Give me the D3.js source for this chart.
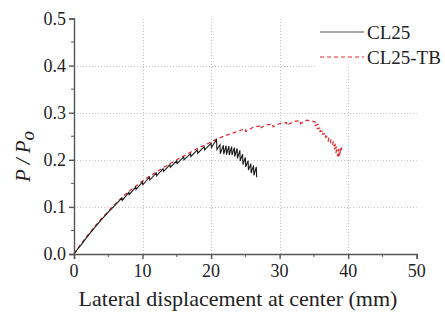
<!DOCTYPE html>
<html>
<head>
<meta charset="utf-8">
<script src="https://cdn.jsdelivr.net/npm/d3@7"></script>
</head>
<body style="margin:0;background:#fff">
<script>
// CL25 (solid black)
const cl25X = [0, 0.5, 1, 2, 3, 4, 5, 6, 7, 7.05, 8, 8.05, 9, 9.05, 10, 10.05, 11, 11.05, 12, 12.05,
  13, 13.05, 14, 14.05, 15, 15.05, 16, 16.05, 17, 17.05, 18, 18.05, 19, 19.05, 20, 20.05, 20.8, 20.85,
  21.3, 21.35, 21.8, 21.85, 22.2, 22.25, 22.6, 22.65, 23.0, 23.05, 23.4, 23.45, 23.8, 23.85, 24.2, 24.25,
  24.6, 24.65, 25.0, 25.05, 25.4, 25.45, 25.8, 25.85, 26.2, 26.25, 26.6, 26.65];
const cl25Y = [0, 0.01, 0.019, 0.038, 0.056, 0.073, 0.089, 0.104, 0.119, 0.114, 0.131, 0.126, 0.142, 0.137, 0.153, 0.147, 0.163, 0.157, 0.172, 0.166,
  0.181, 0.175, 0.19, 0.184, 0.198, 0.192, 0.206, 0.2, 0.213, 0.207, 0.221, 0.214, 0.228, 0.221, 0.235, 0.226, 0.243, 0.222,
  0.232, 0.213, 0.231, 0.212, 0.23, 0.211, 0.229, 0.21, 0.228, 0.21, 0.226, 0.207, 0.224, 0.203, 0.22, 0.198,
  0.212, 0.19, 0.205, 0.185, 0.198, 0.178, 0.192, 0.172, 0.188, 0.167, 0.185, 0.163];

// CL25-TB (dashed red)
const tbX = [0, 1, 2, 3, 4, 5, 6, 7, 8, 9, 10, 11, 12, 13, 14, 15, 16, 17, 18, 19, 20, 21, 22, 23, 24,
  25, 25.05, 26, 27, 27.05, 28, 29, 29.05, 30, 31, 31.05, 32, 33, 33.05, 34, 34.8, 35.2, 35.1, 35.6, 35.5,
  36.0, 35.9, 36.4, 36.3, 36.8, 36.7, 37.2, 37.1, 37.5, 37.4, 37.8, 37.7, 38.1, 37.9, 38.4, 38.2, 38.6,
  38.4, 38.9, 38.5, 39.1, 38.7, 38.9];
const tbY = [0, 0.021, 0.04, 0.058, 0.075, 0.091, 0.106, 0.12, 0.133, 0.144, 0.155, 0.165, 0.174, 0.183, 0.192, 0.2, 0.208, 0.216, 0.224, 0.231, 0.238, 0.245, 0.251, 0.256, 0.261,
  0.266, 0.26, 0.268, 0.272, 0.266, 0.274, 0.276, 0.27, 0.277, 0.279, 0.273, 0.281, 0.283, 0.277, 0.284, 0.282, 0.28, 0.272, 0.275, 0.266,
  0.268, 0.26, 0.262, 0.254, 0.256, 0.248, 0.25, 0.24, 0.244, 0.234, 0.238, 0.228, 0.232, 0.222, 0.228, 0.214,
  0.222, 0.208, 0.224, 0.204, 0.226, 0.21, 0.22];

const xTicks = [0, 10, 20, 30, 40, 50];
const yTicks = [0, 0.1, 0.2, 0.3, 0.4, 0.5];
const xMinor = [5, 15, 25, 35, 45];
const yMinor = [0.05, 0.15, 0.25, 0.35, 0.45];
const seriesNames = ["CL25", "CL25-TB"];

const W = 445, H = 321;
const x = d3.scaleLinear().domain([0, 50]).range([74, 416.7]);
const y = d3.scaleLinear().domain([0, 0.5]).range([254, 18.5]);

const svg = d3.select('body').append('svg')
  .attr('width', W).attr('height', H);

// grid
const grid = svg.append('g')
  .attr('stroke', '#c4c4c4').attr('stroke-width', 1).attr('stroke-dasharray', '1,2');
grid.selectAll('.vg').data(xTicks.slice(1, -1)).join('line')
  .attr('x1', d => Math.round(x(d)) + 0.5).attr('x2', d => Math.round(x(d)) + 0.5)
  .attr('y1', y(0)).attr('y2', y(0.5));
grid.selectAll('.hg').data(yTicks.slice(1, -1)).join('line')
  .attr('x1', x(0)).attr('x2', x(50))
  .attr('y1', d => Math.round(y(d)) + 0.5).attr('y2', d => Math.round(y(d)) + 0.5);

// curves
const line = d3.line().x(d => x(d[0])).y(d => y(d[1]));
svg.append('path')
  .datum(tbX.map((v, i) => [v, tbY[i]]))
  .attr('fill', 'none').attr('stroke', '#e3262b').attr('stroke-width', 1.2)
  .attr('stroke-dasharray', '4,3')
  .attr('d', line);
svg.append('path')
  .datum(cl25X.map((v, i) => [v, cl25Y[i]]))
  .attr('fill', 'none').attr('stroke', '#1a1a1a').attr('stroke-width', 1.1)
  .attr('d', line);

// axes: draw lines with d3 axes, labels as plain text below
const axisColor = '#555';
const xAxis = svg.append('g')
  .attr('transform', `translate(0,${y(0)})`)
  .call(d3.axisBottom(x).tickValues(xTicks).tickSize(5).tickFormat(''));
xAxis.selectAll('.minor').data(xMinor).join('line').attr('class', 'minor')
  .attr('x1', d => x(d)).attr('x2', d => x(d)).attr('y1', 0).attr('y2', 3)
  .attr('stroke', axisColor);

const yAxis = svg.append('g')
  .attr('transform', `translate(${x(0)},0)`)
  .call(d3.axisLeft(y).tickValues(yTicks).tickSize(5).tickFormat(''));
yAxis.selectAll('.minor').data(yMinor).join('line').attr('class', 'minor')
  .attr('x1', 0).attr('x2', -3).attr('y1', d => y(d)).attr('y2', d => y(d))
  .attr('stroke', axisColor);
xAxis.selectAll('text').remove();
yAxis.selectAll('text').remove();
svg.selectAll('.domain, .tick line').attr('stroke', axisColor).attr('stroke-width', 1.4);

const labels = svg.append('g');
const fmtY = d3.format('.1f');
labels.selectAll('.xl').data(xTicks).join('text')
  .attr('x', d => x(d)).attr('y', 277).attr('text-anchor', 'middle')
  .attr('font-size', 18).attr('fill', '#222')
  .text(d => d);
labels.selectAll('.yl').data(yTicks).join('text')
  .attr('x', 66).attr('y', d => y(d) + 6).attr('text-anchor', 'end')
  .attr('font-size', 18).attr('fill', '#222')
  .text(d => fmtY(d));

// axis labels
labels.append('text')
  .attr('x', 238).attr('y', 306)
  .attr('text-anchor', 'middle').attr('font-size', 22).attr('fill', '#222')
  .text('Lateral displacement at center (mm)');

const yl = labels.append('text')
  .attr('transform', 'translate(30,182) rotate(-90)')
  .attr('font-size', 21).attr('font-style', 'italic').attr('fill', '#222');
yl.append('tspan').text('P / P');
yl.append('tspan').attr('dy', 4).attr('font-size', 19).text('o');

// legend
const leg = svg.append('g');
leg.append('rect').attr('x', 317).attr('y', 0).attr('width', W - 317).attr('height', 67).attr('fill', '#fff');
const legItems = [
  { name: seriesNames[0], color: '#555', dash: null, y: 32 },
  { name: seriesNames[1], color: '#e3262b', dash: '4,3', y: 57 }
];
legItems.forEach(it => {
  leg.append('line').attr('x1', 320).attr('x2', 364).attr('y1', it.y).attr('y2', it.y)
    .attr('stroke', it.color).attr('stroke-width', 1.2).attr('stroke-dasharray', it.dash);
  leg.append('text').attr('x', 367).attr('y', it.y + 6.5).attr('font-size', 19).attr('fill', '#222').text(it.name);
});

svg.selectAll('text').style('font-family', () => "'Times New Roman'");
</script>
</body>
</html>
